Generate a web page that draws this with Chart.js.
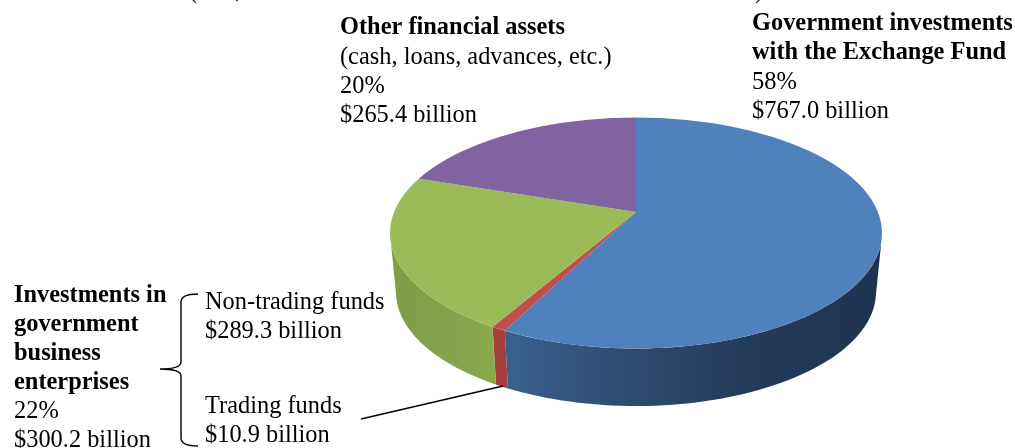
<!DOCTYPE html>
<html>
<head>
<meta charset="utf-8">
<style>
  html,body { margin:0; padding:0; background:#fff; overflow:hidden; }
  #wrap { position:relative; width:1015px; height:448px; }
</style>
<script src="https://cdn.jsdelivr.net/npm/chart.js@4/dist/chart.umd.min.js"></script>
</head>
<body>
<div id="wrap"><canvas id="pie" width="1015" height="448"></canvas></div>
<script>
// amounts in HK$ billion
const categories = ['Government investments with the Exchange Fund','Trading funds','Non-trading funds','Other financial assets'];
const amounts = [767.0,10.9,289.3,265.4];
const topColors = ['#4f81bd','#c0504d','#9bbb59','#8064a2'];
const wallColors = [['#3a6190','#2d4b70','#233a59','#1f3350'],['#a53f3c','#a53f3c'],['#7f9c46','#8aa84e'],['#5f4a7a','#5f4a7a']];

const FONT = '"Liberation Serif","Times New Roman",serif';
const labels = [
    // tail of the line cut off by the top edge
    ['(',189,-2,false],
    [',',235,-2,false],
    [')',755,-2,false],
    ['Other financial assets',340,34,true],
    ['(cash, loans, advances, etc.)',340,64,false],
    ['20%',340,93,false],
    ['$265.4 billion',340,122,false],
    ['Government investments',752,30,true],
    ['with the Exchange Fund',752,59,true],
    ['58%',752,89,false],
    ['$767.0 billion',752,118,false],
    ['Investments in',14,302,true],
    ['government',14,331,true],
    ['business',14,360,true],
    ['enterprises',14,389,true],
    ['22%',14,418,false],
    ['$300.2 billion',14,447,false],
    ['Non-trading funds',205,309,false],
    ['$289.3 billion',205,338,false],
    ['Trading funds',205,413,false],
    ['$10.9 billion',205,442,false]
];

// top face ellipse (perspective puts the apex above its centre), bottom rim ellipse
const apex = {x:636,y:212};
const rim = {x:636,y:233,rx:246,ry:115.5};
const base = {x:636,y:292,rx:240,ry:114};
const squash = 0.465;

const rimParam = (angle) =>
{
    const dx = Math.cos(angle),dy = squash * Math.sin(angle);
    const oy = apex.y - rim.y;
    const a = (dx * dx) / (rim.rx * rim.rx) + (dy * dy) / (rim.ry * rim.ry);
    const b = 2 * dy * oy / (rim.ry * rim.ry);
    const c = (oy * oy) / (rim.ry * rim.ry) - 1;
    const t = (-b + Math.sqrt(b * b - 4 * a * c)) / (2 * a);
    return Math.atan2((t * dy + oy) / rim.ry,(t * dx) / rim.rx);
};

const drawWall = (ctx,arc,colors) =>
{
    const pts = [];
    for (let i = 0; i <= 120; i++)
    {
        const th = rimParam(arc.startAngle + (arc.endAngle - arc.startAngle) * i / 120);
        if (th >= 0 && th <= Math.PI) pts.push(th);
    }
    if (pts.length < 2) return;
    const tx = (e,th) => e.x + e.rx * Math.cos(th);
    const ty = (e,th) => e.y + e.ry * Math.sin(th);
    const xs = pts.map(th => tx(rim,th));
    const grad = ctx.createLinearGradient(Math.min(...xs),0,Math.max(...xs),0);
    // stops run left to right across the visible wall
    colors.forEach((c,i) => grad.addColorStop(i / (colors.length - 1),c));
    ctx.beginPath();
    pts.forEach((th,i) => i ? ctx.lineTo(tx(rim,th),ty(rim,th)) : ctx.moveTo(tx(rim,th),ty(rim,th)));
    pts.slice().reverse().forEach(th => ctx.lineTo(tx(base,th),ty(base,th)));
    ctx.closePath();
    ctx.fillStyle = grad;
    ctx.fill();
};

const drawBrace = (ctx) =>
{
    ctx.strokeStyle = '#000';
    ctx.lineWidth = 1.4;
    ctx.beginPath();
    ctx.moveTo(198,294);
    ctx.quadraticCurveTo(181,294,181,302);
    ctx.lineTo(181,362);
    ctx.quadraticCurveTo(181,369,160,369);
    ctx.quadraticCurveTo(181,369,181,376);
    ctx.lineTo(181,438);
    ctx.quadraticCurveTo(181,446,198,446);
    ctx.stroke();
    // leader to the trading funds slice
    ctx.beginPath();
    ctx.moveTo(361,419);
    ctx.lineTo(503,386);
    ctx.stroke();
};

const pie3d = {
    id: 'pie3d',
    beforeDatasetDraw(chart)
    {
        const ctx = chart.ctx;
        ctx.save();
        // walls first, the front one over the others
        chart.getDatasetMeta(0).data.forEach((arc,i) => drawWall(ctx,arc,wallColors[i]));
        ctx.beginPath();
        ctx.ellipse(rim.x,rim.y,rim.rx,rim.ry,0,0,Math.PI * 2);
        ctx.clip();
        ctx.translate(apex.x,apex.y);
        ctx.scale(1,squash);
        ctx.translate(-apex.x,-apex.y);
    },
    afterDatasetDraw(chart)
    {
        chart.ctx.restore();
    },
    afterDraw(chart)
    {
        const ctx = chart.ctx;
        ctx.save();
        drawBrace(ctx);
        ctx.fillStyle = '#000';
        ctx.textBaseline = 'alphabetic';
        labels.forEach(([text,x,y,bold]) =>
        {
            ctx.font = (bold ? 'bold ' : '') + '24.4px ' + FONT;
            ctx.fillText(text,x,y);
        });
        ctx.restore();
    }
};

new Chart(document.getElementById('pie'),{
    type: 'pie',
    data: {
        labels: categories,
        datasets: [{
            data: amounts,
            backgroundColor: topColors,
            borderWidth: 0,
            clip: false
        }]
    },
    options: {
        responsive: false,
        animation: false,
        radius: 320,
        // puts the pie centre on the apex
        layout: { padding: { left: 257,bottom: 24 } },
        plugins: {
            legend: { display: false },
            tooltip: { enabled: false }
        }
    },
    plugins: [pie3d]
});
</script>
</body>
</html>
